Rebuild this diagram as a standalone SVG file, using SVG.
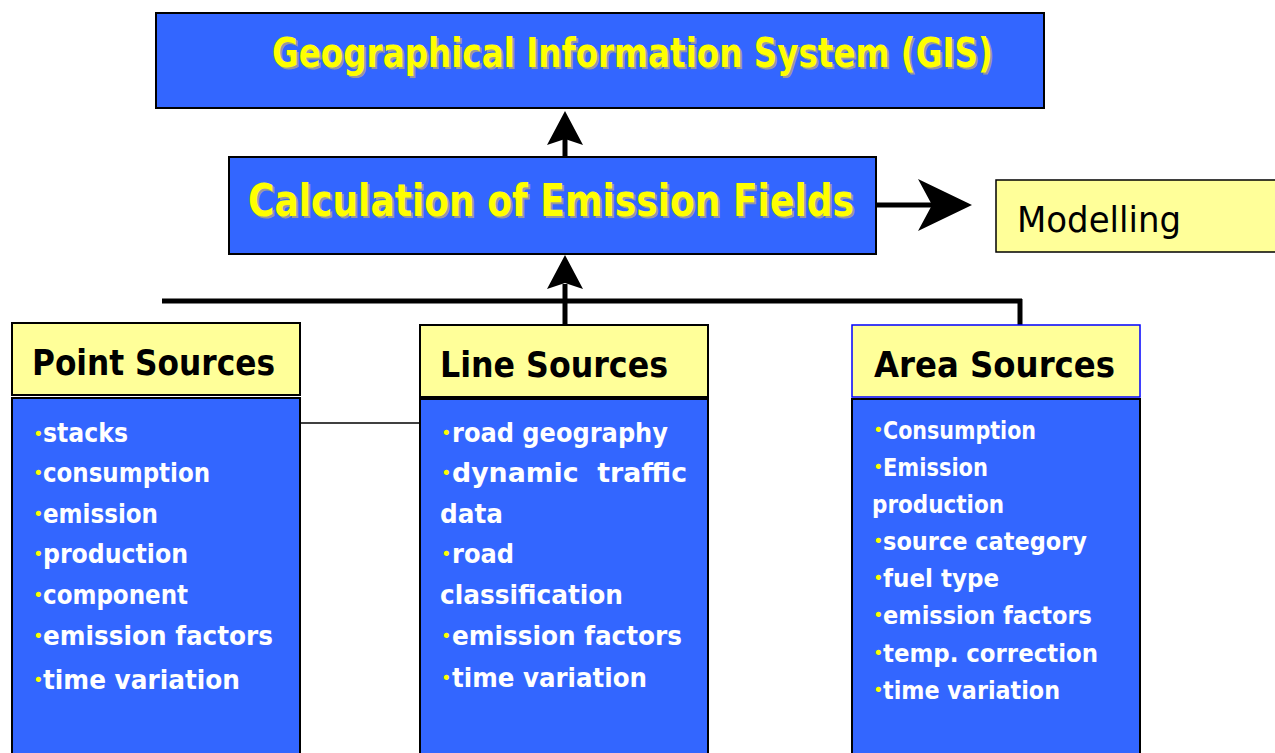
<svg xmlns="http://www.w3.org/2000/svg" width="1275" height="753" viewBox="0 0 1275 753">
<style>
.blue{fill:#3366FF;stroke:#000;stroke-width:2}
.hdr{fill:#FFFF99;stroke:#000;stroke-width:2}
.ttl{font-family:"DejaVu Sans","Liberation Sans",sans-serif;font-weight:bold;fill:#FFFF00}
.shd{font-family:"DejaVu Sans","Liberation Sans",sans-serif;font-weight:bold;fill:#999999}
.h{font-family:"DejaVu Sans","Liberation Sans",sans-serif;font-weight:bold;font-size:35px;fill:#000}
.it{font-family:"DejaVu Sans","Liberation Sans",sans-serif;font-weight:bold;font-size:26px;fill:#FFFFFF}
.ita{font-family:"DejaVu Sans","Liberation Sans",sans-serif;font-weight:bold;font-size:24px;fill:#FFFFFF}
.b{font-family:"DejaVu Sans",sans-serif;font-size:18px;fill:#FFFF00}
.conn{stroke:#000;fill:none}
</style>
<g id="connectors">
<line class="conn" x1="565" y1="157" x2="565" y2="138" stroke-width="5"/>
<polygon points="565,111 547,145 565,139 583,145" fill="#000"/>
<line class="conn" x1="565" y1="326" x2="565" y2="284" stroke-width="5"/>
<polygon points="565,255 547,289 565,283 583,289" fill="#000"/>
<line class="conn" x1="877" y1="205" x2="940" y2="205" stroke-width="5"/>
<polygon points="972,205 918,179 932,205 918,231" fill="#000"/>
<line class="conn" x1="162" y1="301" x2="1022" y2="301" stroke-width="5"/>
<line class="conn" x1="1020" y1="299" x2="1020" y2="326" stroke-width="5"/>
<line class="conn" x1="300" y1="423" x2="420" y2="423" stroke-width="1.5"/>
</g>
<g id="gis">
<rect class="blue" x="156" y="13" width="888" height="95"/>
<text class="shd" x="274" y="69" font-size="40" textLength="721" lengthAdjust="spacingAndGlyphs">Geographical Information System (GIS)</text>
<text class="ttl" x="272" y="67" font-size="40" textLength="721" lengthAdjust="spacingAndGlyphs">Geographical Information System (GIS)</text>
</g>
<g id="calc">
<rect class="blue" x="229" y="157" width="647" height="97"/>
<text class="shd" x="250" y="218" font-size="44" textLength="606" lengthAdjust="spacingAndGlyphs">Calculation of Emission Fields</text>
<text class="ttl" x="248" y="216" font-size="44" textLength="606" lengthAdjust="spacingAndGlyphs">Calculation of Emission Fields</text>
</g>
<g id="modelling">
<rect x="996" y="180" width="285" height="72" fill="#FFFF99" stroke="#000" stroke-width="1.5"/>
<text x="1017" y="232" font-family="DejaVu Sans, Liberation Sans, sans-serif" font-size="35" fill="#000" textLength="164" lengthAdjust="spacingAndGlyphs">Modelling</text>
</g>
<g id="point">
<rect class="hdr" x="12" y="323" width="288" height="72"/>
<text class="h" x="32" y="375" textLength="243" lengthAdjust="spacingAndGlyphs">Point Sources</text>
<rect class="blue" x="12" y="398" width="288" height="365"/>
<text class="b" x="33" y="440" font-size="11">•</text>
<text class="it" x="43" y="442" textLength="85" lengthAdjust="spacingAndGlyphs">stacks</text>
<text class="b" x="33" y="479">•</text>
<text class="it" x="43" y="482" textLength="167" lengthAdjust="spacingAndGlyphs">consumption</text>
<text class="b" x="33" y="520">•</text>
<text class="it" x="43" y="523" textLength="115" lengthAdjust="spacingAndGlyphs">emission</text>
<text class="b" x="33" y="560">•</text>
<text class="it" x="43" y="563" textLength="145" lengthAdjust="spacingAndGlyphs">production</text>
<text class="b" x="33" y="601">•</text>
<text class="it" x="43" y="604" textLength="145" lengthAdjust="spacingAndGlyphs">component</text>
<text class="b" x="33" y="642">•</text>
<text class="it" x="43" y="645" textLength="230" lengthAdjust="spacingAndGlyphs">emission factors</text>
<text class="b" x="33" y="686">•</text>
<text class="it" x="43" y="689" textLength="197" lengthAdjust="spacingAndGlyphs">time variation</text>
</g>
<g id="line">
<rect class="hdr" x="420" y="325" width="288" height="72"/>
<text class="h" x="440" y="377" textLength="228" lengthAdjust="spacingAndGlyphs">Line Sources</text>
<rect class="blue" x="420" y="399" width="288" height="364"/>
<text class="b" x="441" y="439">•</text>
<text class="it" x="452" y="442" textLength="216" lengthAdjust="spacingAndGlyphs">road geography</text>
<text class="b" x="441" y="479">•</text>
<text class="it" x="452" y="482" textLength="235" lengthAdjust="spacingAndGlyphs" xml:space="preserve">dynamic  traffic</text>
<text class="it" x="440" y="523" textLength="63" lengthAdjust="spacingAndGlyphs">data</text>
<text class="b" x="441" y="560">•</text>
<text class="it" x="452" y="563" textLength="62" lengthAdjust="spacingAndGlyphs">road</text>
<text class="it" x="440" y="604" textLength="183" lengthAdjust="spacingAndGlyphs">classification</text>
<text class="b" x="441" y="642">•</text>
<text class="it" x="452" y="645" textLength="230" lengthAdjust="spacingAndGlyphs">emission factors</text>
<text class="b" x="441" y="684">•</text>
<text class="it" x="452" y="687" textLength="195" lengthAdjust="spacingAndGlyphs">time variation</text>
</g>
<g id="area">
<rect x="852" y="325" width="288" height="72" fill="#FFFF99" stroke="#0000FF" stroke-width="1.5"/>
<text class="h" x="874" y="377" textLength="241" lengthAdjust="spacingAndGlyphs">Area Sources</text>
<rect class="blue" x="852" y="399" width="288" height="364"/>
<text class="b" x="873" y="436">•</text>
<text class="ita" x="883" y="439" textLength="153" lengthAdjust="spacingAndGlyphs">Consumption</text>
<text class="b" x="873" y="473">•</text>
<text class="ita" x="883" y="476" textLength="105" lengthAdjust="spacingAndGlyphs">Emission</text>
<text class="ita" x="872" y="513" textLength="132" lengthAdjust="spacingAndGlyphs">production</text>
<text class="b" x="873" y="547">•</text>
<text class="ita" x="883" y="550" textLength="204" lengthAdjust="spacingAndGlyphs">source category</text>
<text class="b" x="873" y="584">•</text>
<text class="ita" x="883" y="587" textLength="116" lengthAdjust="spacingAndGlyphs">fuel type</text>
<text class="b" x="873" y="621">•</text>
<text class="ita" x="883" y="624" textLength="209" lengthAdjust="spacingAndGlyphs">emission factors</text>
<text class="b" x="873" y="659">•</text>
<text class="ita" x="883" y="662" textLength="215" lengthAdjust="spacingAndGlyphs">temp. correction</text>
<text class="b" x="873" y="696">•</text>
<text class="ita" x="883" y="699" textLength="177" lengthAdjust="spacingAndGlyphs">time variation</text>
</g>
</svg>
